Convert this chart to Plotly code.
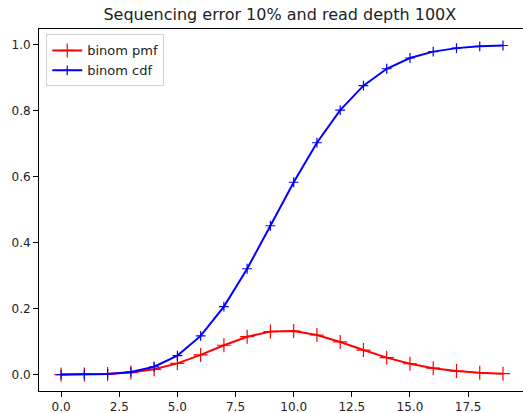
import plotly.graph_objects as go

k = list(range(20))
pmf = [0.0000266, 0.000295, 0.00162, 0.00589, 0.0159, 0.0339, 0.0596, 0.0889, 0.1148, 0.1304,
       0.1319, 0.1199, 0.0988, 0.0743, 0.0513, 0.0327, 0.0193, 0.0106, 0.0054, 0.0026]
cdf = [0.0000266, 0.00032, 0.00194, 0.00784, 0.0237, 0.0576, 0.1172, 0.2061, 0.3209, 0.4513,
       0.5832, 0.7030, 0.8018, 0.8761, 0.9274, 0.9601, 0.9794, 0.9900, 0.9954, 0.9980]
xticks = [0.0, 2.5, 5.0, 7.5, 10.0, 12.5, 15.0, 17.5]
yticks = [0.0, 0.2, 0.4, 0.6, 0.8, 1.0]

fig = go.Figure()
fig.add_trace(go.Scatter(x=k, y=pmf, mode="lines+markers", name="binom pmf",
                         line=dict(color="red", width=2),
                         marker=dict(symbol="cross-thin-open", size=10, line=dict(color="red", width=1.2))))
fig.add_trace(go.Scatter(x=k, y=cdf, mode="lines+markers", name="binom cdf",
                         line=dict(color="blue", width=2),
                         marker=dict(symbol="cross-thin-open", size=7, line=dict(color="blue", width=1.2))))

ax_font = dict(family="DejaVu Sans", size=12, color="#222")
fig.update_layout(
    width=523, height=413,
    margin=dict(l=39, r=0, t=29, b=22),
    paper_bgcolor="white", plot_bgcolor="white",
    title=dict(text="Sequencing error 10% and read depth 100X", x=0.535, xanchor="center",
               y=1 - 14 / 413, yanchor="middle",
               font=dict(family="DejaVu Sans", size=16, color="#222")),
    showlegend=True,
    legend=dict(x=0.015, y=0.985, xanchor="left", yanchor="top",
                bordercolor="#d0d0d0", borderwidth=1, bgcolor="rgba(255,255,255,0.8)",
                font=dict(family="DejaVu Sans", size=13, color="#222"),
                itemwidth=30, tracegroupgap=2),
    xaxis=dict(range=[-0.95, 19.86], tickvals=xticks, ticktext=[f"{v:.1f}" for v in xticks],
               showgrid=False, zeroline=False, showline=True, linecolor="black", linewidth=1,
               mirror=True, ticks="outside", ticklen=5, tickcolor="black", tickfont=ax_font),
    yaxis=dict(range=[-0.0499, 1.048], tickvals=yticks, ticktext=[f"{v:.1f}" for v in yticks],
               showgrid=False, zeroline=False, showline=True, linecolor="black", linewidth=1,
               ticks="outside", ticklen=5, tickcolor="black", tickfont=ax_font),
)
fig.write_html("out.html")
